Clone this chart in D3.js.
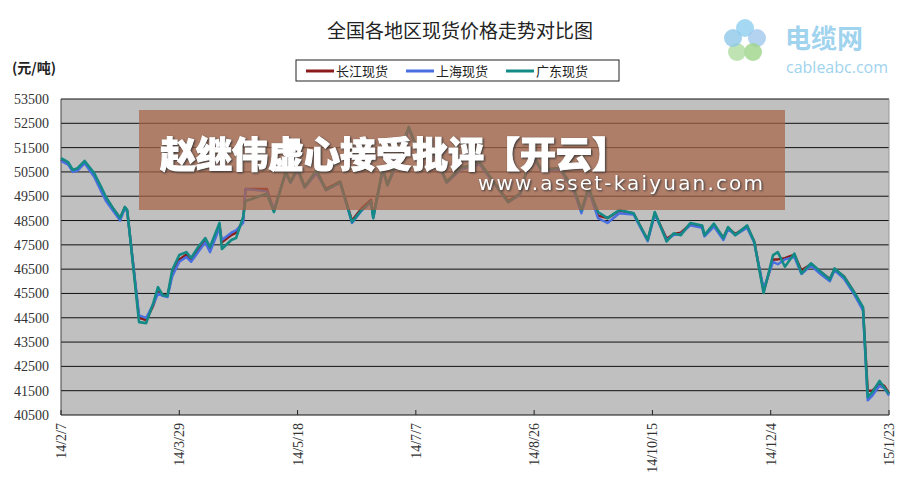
<!DOCTYPE html>
<html><head><meta charset="utf-8">
<script src="https://cdn.jsdelivr.net/npm/d3@7"></script>
<style>body{margin:0;background:#fff}svg{display:block}</style>
</head><body><svg width="924" height="501"></svg>
<script>
const days = [0,3,5,7,10,14,17,19,22,25,27,28,33,36,39,41,43,45,47,50,53,55,58,61,63,67,68,72,74,77,78,87,90,95,97,100,103,108,112,118,123,127,131,132,136,138,141,147,152,157,163,168,169,177,189,194,199,203,211,217,220,223,227,231,236,242,248,251,256,259,262,266,271,272,276,280,282,285,290,293,297,301,303,306,310,313,317,321,325,327,331,335,339,341,343,346,348,350];
const gd = [51070,50900,50580,50650,50950,50450,49880,49470,49010,48600,49060,48930,44320,44280,45100,45760,45430,45400,46460,47080,47200,46960,47410,47780,47410,48400,47330,47700,47780,48650,49300,49600,48850,50500,50080,50660,49880,50580,49760,50090,48440,48930,49300,48600,50660,49960,50700,52350,51100,51450,50090,50580,50660,50900,49260,49600,51320,50580,50660,49760,48930,49840,48850,48600,48930,48800,47700,48850,47640,47970,47900,48400,48300,47900,48370,47780,48230,47900,48300,47640,45520,47080,47200,46600,47140,46330,46740,46400,46070,46530,46190,45590,44940,41240,41440,41900,41630,41360];
const cj = [51000,50850,50550,50600,50900,50400,49800,49400,49000,48600,49050,48900,44500,44400,45000,45600,45450,45400,46300,46900,47100,46900,47300,47700,47300,48300,47600,47900,48000,48500,49800,49800,48900,50500,50100,50600,49900,50500,49800,50100,48500,49000,49350,48700,50600,50000,50650,52300,51100,51400,50100,50550,50650,50850,49300,49600,51250,50600,50650,49700,48900,49800,48700,48600,48900,48800,47700,48800,47750,47950,48000,48350,48250,47900,48300,47800,48200,47950,48250,47650,45600,46900,46900,46950,47100,46450,46700,46400,46100,46500,46200,45600,44900,41500,41500,41800,41700,41400];
const sh = [50950,50800,50500,50550,50850,50300,49700,49300,48900,48500,49000,48850,44600,44500,45050,45500,45400,45350,46200,46800,47000,46800,47200,47600,47200,48200,47700,48000,48100,48400,49800,49700,48950,50450,50050,50550,49850,50450,49750,50050,48400,48900,49250,48600,50550,49950,50600,52250,51050,51350,50050,50500,50600,50800,49250,49550,51200,50550,50600,49650,48800,49750,48600,48400,48800,48750,47650,48750,47700,47900,47950,48300,48200,47850,48250,47700,48150,47900,48200,47600,45700,46800,46700,46900,47000,46300,46650,46300,46000,46450,46100,45500,44800,41100,41300,41700,41600,41300];
const yTicks = d3.range(40500, 53501, 1000);
const xTickLabels = ["14/2/7","14/3/29","14/5/18","14/7/7","14/8/26","14/10/15","14/12/4","15/1/23"];
const xTickDays = [0,50,100,150,200,250,300,350];
const series = [
  {name:"长江现货", color:"#8b1a1a", v:cj},
  {name:"上海现货", color:"#4a6fe0", v:sh},
  {name:"广东现货", color:"#138a86", v:gd}
];

const svg = d3.select("svg");
const L=61, R=889, T=99, B=415;
const x = d3.scaleLinear().domain([0,350]).range([L,R]);
const y = d3.scaleLinear().domain([40500,53500]).range([B,T]);

svg.append("rect").attr("x",L).attr("y",T).attr("width",R-L).attr("height",B-T).attr("fill","#c0c0c0");
svg.selectAll(".grid").data(yTicks).join("line")
  .attr("x1",L).attr("x2",R).attr("y1",d=>y(d)).attr("y2",d=>y(d))
  .attr("stroke","#111").attr("stroke-width",1);
svg.append("line").attr("x1",L).attr("x2",L).attr("y1",T).attr("y2",B).attr("stroke","#444");
svg.append("line").attr("x1",R).attr("x2",R).attr("y1",T).attr("y2",B).attr("stroke","#999");

svg.selectAll(".yl").data(yTicks).join("text")
  .attr("x",L-12).attr("y",d=>y(d)+5).attr("text-anchor","end")
  .attr("font-family","Liberation Serif").attr("font-size",14).attr("fill","#333").text(d=>d);

svg.selectAll(".xt").data(xTickDays).join("line")
  .attr("x1",d=>x(d)).attr("x2",d=>x(d)).attr("y1",B-5).attr("y2",B).attr("stroke","#222");
svg.selectAll(".xl").data(xTickDays).join("text")
  .attr("transform",d=>`translate(${x(d)+5},${B+8}) rotate(-90)`)
  .attr("text-anchor","end").attr("font-family","Liberation Serif").attr("font-size",14).attr("fill","#333")
  .text((d,i)=>xTickLabels[i]);

const line = d3.line().x((d,i)=>x(days[i])).y(d=>y(d));
series.forEach(s=>{
  svg.append("path").attr("d",line(s.v)).attr("fill","none").attr("stroke",s.color)
    .attr("stroke-width",s.name==="广东现货"?2.6:2.4).attr("stroke-linejoin","round");
});

svg.append("text").attr("x",460).attr("y",38).attr("text-anchor","middle")
  .attr("font-family","Noto Sans CJK SC").attr("font-size",19).attr("fill","#222").text("全国各地区现货价格走势对比图");
svg.append("text").attr("x",12).attr("y",73).attr("font-family","Noto Sans CJK SC").attr("font-weight","bold")
  .attr("font-size",14).attr("fill","#222").text("(元/吨)");

const lg = svg.append("g").attr("transform","translate(296,60)");
lg.append("rect").attr("width",323).attr("height",21).attr("fill","#fff").attr("stroke","#222");
series.forEach((s,i)=>{
  const g = lg.append("g").attr("transform",`translate(${10+i*100},11)`);
  g.append("line").attr("x1",0).attr("x2",28).attr("stroke",s.color).attr("stroke-width",3);
  g.append("text").attr("x",30).attr("y",5).attr("font-family","Noto Sans CJK SC").attr("font-size",13).attr("fill","#222").text(s.name);
});

// watermark overlay
svg.append("rect").attr("x",139).attr("y",110).attr("width",646).attr("height",100)
  .attr("fill","rgb(168,100,70)").attr("opacity",0.72);
svg.append("text").attr("x",160).attr("y",168).attr("font-family","Noto Sans CJK SC").attr("font-weight","900")
  .attr("font-size",36).attr("fill","#fff").attr("stroke","#fff").attr("stroke-width",1)
  .style("filter","drop-shadow(1px 1px 1px #333)").text("赵继伟虚心接受批评【开云】");
svg.append("text").attr("x",478).attr("y",190).attr("font-family","DejaVu Sans")
  .attr("font-size",20).attr("fill","#fff").attr("textLength",285)
  .style("filter","drop-shadow(1px 1px 1px #333)").text("www.asset-kaiyuan.com");

// logo
const lo = svg.append("g").attr("transform","translate(745,40)");
[[0,-12,"#8fd0f0"],[12,-2,"#a0c8ee"],[8,12,"#9ed48a"],[-8,12,"#b0dca0"],[-12,-2,"#8fc8ea"]].forEach(p=>{
  lo.append("circle").attr("cx",p[0]).attr("cy",p[1]).attr("r",9).attr("fill",p[2]).attr("opacity",0.8);
});
svg.append("text").attr("x",785).attr("y",48).attr("font-family","Noto Sans CJK SC").attr("font-weight","bold")
  .attr("font-size",26).attr("fill","#9fd3ee").text("电缆网");
svg.append("text").attr("x",786).attr("y",73).attr("font-family","Open Sans")
  .attr("font-size",16).attr("fill","#9fd3ee").text("cableabc.com");
</script></body></html>
